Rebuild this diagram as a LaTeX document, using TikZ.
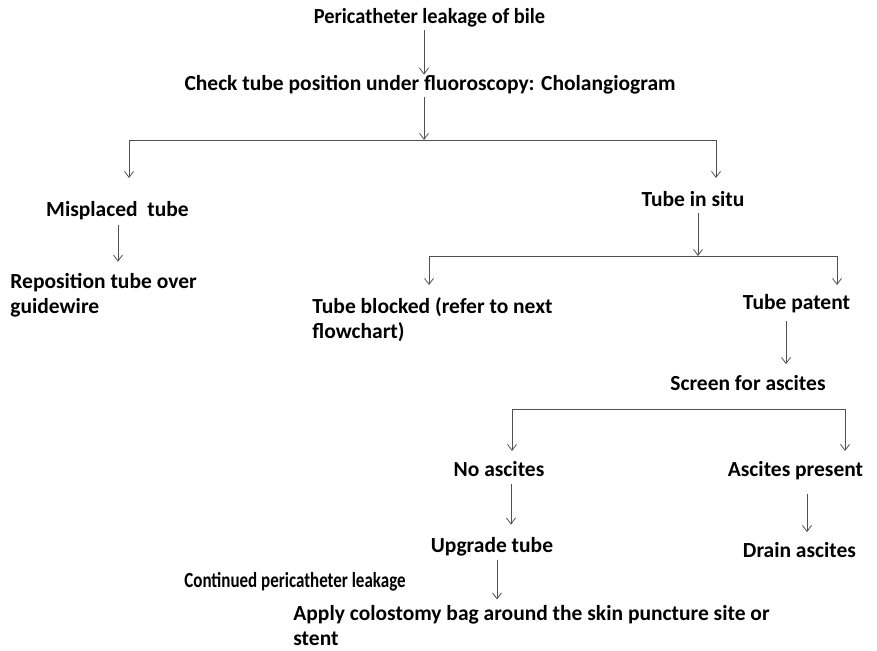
\documentclass[tikz,border=0pt]{standalone}
\usepackage{fontspec}
\setmainfont{Carlito}
\usepackage{tikz}
\usetikzlibrary{arrows.meta}

\definecolor{linegray}{RGB}{80,80,80}

\begin{document}
\begin{tikzpicture}[x=1pt,y=-1pt,->,>={Straight Barb[length=6pt,width=9pt]},line width=0.8pt,draw=linegray,
		txt/.style={font=\fontsize{21.5}{25}\selectfont\bfseries,inner sep=0pt,text height=7.2pt,text depth=2.2pt},
		multi/.style={font=\fontsize{21.5}{25}\selectfont\bfseries,inner sep=0pt,align=left,anchor=west}]
			\useasboundingbox (0,0) rectangle (877,650);
			% text of the chart
			\node[txt]   (leak)    at (429.5,21) {\scalebox{0.95}[1]{Pericatheter leakage of bile}};
			\node[txt]   (check)   at (430,88)   {Check tube position under fluoroscopy: Cholangiogram};
			\node[txt]   (mis)     at (117.5,214) {Misplaced\ \ tube};
			\node[multi] (repos)   at (10,295)   {Reposition tube over\\guidewire};
			\node[txt]   (situ)    at (693,204)  {Tube in situ};
			\node[multi] (blocked) at (312,319.5) {Tube blocked (refer to next\\flowchart)};
			\node[txt]   (patent)  at (796.5,306.5) {Tube patent};
			\node[txt]   (screen)  at (748,387.5) {Screen for ascites};
			\node[txt]   (noasc)   at (499,473.5) {No ascites};
			\node[txt]   (present) at (795.5,473.5) {Ascites present};
			\node[txt]   (upgrade) at (492,550)  {Upgrade tube};
			\node[txt]   (drain)   at (799.5,554.5) {Drain ascites};
			\node[txt, anchor=west] (cont) at (184,584.5) {\scalebox{0.79}[1]{Continued pericatheter leakage}};
			\node[multi] (apply)   at (293,626) {Apply colostomy bag around the skin puncture site or\\stent};
			% branch points
			\coordinate (j1) at (424,140);
			\coordinate (j2) at (698,256);
			\coordinate (j3l) at (512,409);
			\coordinate (j3r) at (845,409);
			\coordinate (t1) at (129,178);
			\coordinate (t2) at (716,178);
			\coordinate (t3) at (429,285);
			\coordinate (t4) at (837,285);
			\coordinate (t5) at (512,451);
			\coordinate (t6) at (845,451);
			% connectors
			\draw ([xshift=-5.5pt,yshift=-4.3pt]leak.south) -- ([xshift=-6pt,yshift=8.3pt]check.north);
			\draw ([xshift=-6pt,yshift=-4.3pt]check.south) -- (j1);
			\draw (j1) -| (t1);
			\draw (j1) -| (t2);
			\draw ([xshift=0.5pt,yshift=-6.3pt]mis.south) -- ([xshift=0.5pt,yshift=11pt]mis.south |- repos.north);
			\draw ([xshift=5pt,yshift=-4.3pt]situ.south) -- (j2);
			\draw (j2) -| (t3);
			\draw (j2) -| (t4);
			\draw ([xshift=-10.5pt,yshift=-9.3pt]patent.south) -- ([xshift=38pt,yshift=18.3pt]screen.north);
			\draw[-] (j3l) -- (j3r);
			\draw (j3l) -- (t5);
			\draw (j3r) -- (t6);
			\draw ([xshift=12pt,yshift=-5.3pt]noasc.south) -- ([xshift=19pt,yshift=20.3pt]upgrade.north);
			\draw ([xshift=11.5pt,yshift=-15.3pt]present.south) -- ([xshift=7.5pt,yshift=17.3pt]drain.north);
			\draw ([xshift=5pt,yshift=-5.3pt]upgrade.south) -- ([xshift=5pt,yshift=6pt]upgrade.south |- apply.north);
		\end{tikzpicture}
\end{document}
